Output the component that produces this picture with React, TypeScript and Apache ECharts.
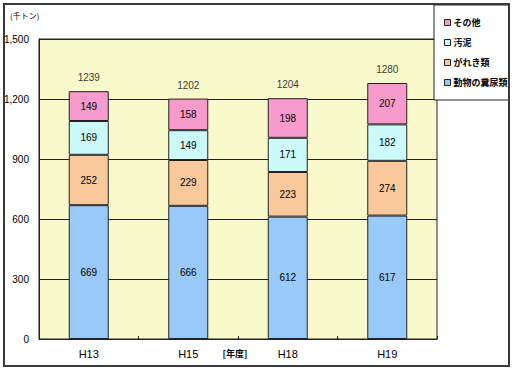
import React, { useEffect, useRef } from "react";
import * as echarts from "echarts";

const categories = ["H13", "H15", "H18", "H19"];
const seriesNames = ["動物の糞尿類", "がれき類", "汚泥", "その他"];
const manure = [669, 666, 612, 617];
const debris = [252, 229, 223, 274];
const sludge = [169, 149, 171, 182];
const others = [149, 158, 198, 207];
const colors = ["#99C9F8", "#F9C99B", "#CCFAFA", "#F69BCB"];
const yTicks = [0, 300, 600, 900, 1200, 1500];

const FONT = "'Liberation Sans', 'Noto Sans CJK JP', sans-serif";

export default function App() {
  const ref = useRef<HTMLDivElement>(null);
  useEffect(() => {
    if (!ref.current) return;
    const chart = echarts.init(ref.current, undefined, { renderer: "svg" });
    const values = [manure, debris, sludge, others];
    const totals = categories.map((_, i) => values.reduce((s, arr) => s + arr[i], 0));
    const barSeries = seriesNames.map((name, k) => ({
      name,
      type: "bar",
      stack: "total",
      barWidth: 40,
      data: values[k],
      itemStyle: { color: colors[k], borderColor: "#222", borderWidth: 1 },
      label: {
        show: true,
        position: "inside",
        color: "#000",
        fontSize: 10,
        fontFamily: FONT,
      },
      z: 3,
    }));
    chart.setOption({
      animation: false,
      backgroundColor: "#fff",
      grid: {
        left: 39,
        top: 39,
        right: 76,
        bottom: 32,
        show: true,
        backgroundColor: "#F9F9CC",
        borderColor: "#222",
        borderWidth: 1,
      },
      legend: {
        orient: "vertical",
        left: 439,
        top: 13,
        itemWidth: 6,
        itemHeight: 6,
        itemGap: 11,
        icon: "rect",
        z: 12,
        data: ["その他", "汚泥", "がれき類", "動物の糞尿類"],
        itemStyle: { borderColor: "#222", borderWidth: 1 },
        textStyle: {
          fontSize: 9,
          fontWeight: "bold",
          color: "#000",
          fontFamily: "'Noto Sans CJK JP', sans-serif",
          padding: [0, 0, 0, -2],
        },
      },
      xAxis: {
        type: "category",
        data: categories,
        axisLine: { lineStyle: { color: "#222", width: 1 } },
        axisTick: { show: true, inside: true, length: 3, lineStyle: { color: "#222" } },
        axisLabel: { color: "#000", fontSize: 11, fontFamily: FONT, margin: 9 },
      },
      yAxis: {
        type: "value",
        min: yTicks[0],
        max: yTicks[yTicks.length - 1],
        interval: 300,
        axisLine: { show: true, lineStyle: { color: "#222" } },
        axisTick: { show: false },
        splitLine: { lineStyle: { color: "#222", width: 1 } },
        axisLabel: {
          color: "#000",
          fontSize: 10,
          fontFamily: FONT,
          margin: 10,
          formatter: (v: number) => v.toLocaleString("en-US"),
        },
      },
      series: [
        ...barSeries,
        {
          name: "合計",
          type: "scatter",
          data: totals,
          symbolSize: 1,
          itemStyle: { color: "rgba(0,0,0,0)" },
          label: {
            show: true,
            position: "top",
            distance: 8,
            color: "#000",
            fontSize: 10,
            fontFamily: FONT,
          },
          z: 5,
        },
      ],
      graphic: [
        {
          type: "rect",
          z: 10,
          shape: { x: 434, y: 5, width: 75, height: 95 },
          style: { fill: "#fff", stroke: "#222", lineWidth: 1 },
        },
        {
          type: "rect",
          z: 20,
          shape: { x: 4, y: 4, width: 505, height: 362 },
          style: { fill: "none", stroke: "#3a3a3a", lineWidth: 2 },
        },
        {
          type: "text",
          z: 20,
          x: 10,
          y: 15,
          style: {
            text: "(千トン)",
            fontSize: 8,
            fontFamily: "'Noto Sans CJK JP', sans-serif",
            fill: "#000",
            verticalAlign: "middle",
          },
        },
        {
          type: "text",
          z: 20,
          x: 235,
          y: 353,
          style: {
            text: "[年度]",
            fontSize: 9,
            fontWeight: "bold",
            fontFamily: "'Noto Sans CJK JP', sans-serif",
            fill: "#000",
            align: "center",
            verticalAlign: "middle",
          },
        },
      ],
    });
    return () => chart.dispose();
  }, []);
  return (
    <div
      ref={ref}
      style={{ position: "absolute", left: 0, top: 0, width: 513, height: 371 }}
    />
  );
}
